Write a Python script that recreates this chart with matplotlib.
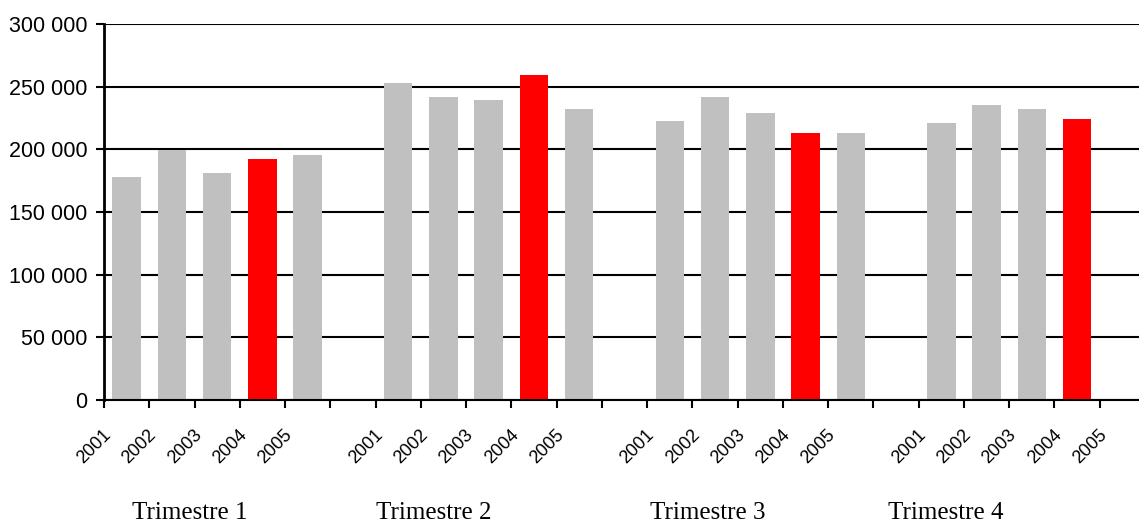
import matplotlib.pyplot as plt
import matplotlib.transforms as mtransforms
from matplotlib.ticker import FuncFormatter, MultipleLocator

years = ['2001', '2002', '2003', '2004', '2005']
quarters = ['Trimestre 1', 'Trimestre 2', 'Trimestre 3', 'Trimestre 4']

# values per quarter, one per year (None = no data yet)
q1 = [178000, 199500, 181500, 192300, 195500]
q2 = [252900, 241800, 239400, 259300, 232200]
q3 = [222600, 241800, 229000, 213000, 213000]
q4 = [221000, 235400, 232200, 224200, None]
highlight_year = '2004'

# where the quarter captions sit, in slot units
caption_x = [1.40, 6.78, 12.83, 18.09]

plt.rcParams['font.family'] = ['Liberation Sans', 'DejaVu Sans']

fig = plt.figure(figsize=(11.39, 5.25), dpi=100)
ax = fig.add_axes([104 / 1139, 125 / 525, 1041 / 1139, 376 / 525])

slot = 0
centers = []
labels = []
for series in [q1, q2, q3, q4]:
    for year, value in zip(years, series):
        centers.append(slot)
        labels.append(year)
        if value is not None:
            color = '#ff0000' if year == highlight_year else '#c0c0c0'
            ax.bar(slot, value, width=0.63, color=color, zorder=3)
        slot += 1
    slot += 1  # gap between quarters
n_slots = slot - 1

ax.set_xlim(-0.5, n_slots - 0.5)
ax.set_ylim(0, 300000)

ax.yaxis.set_major_locator(MultipleLocator(50000))
ax.yaxis.set_major_formatter(FuncFormatter(lambda v, p: f'{int(v):,}'.replace(',', ' ')))
ax.yaxis.grid(True, color='black', linewidth=1.5, zorder=1)
ax.tick_params(axis='y', direction='out', length=6, width=1.5, pad=6, labelsize=15.5)

# boundary ticks between slots, year labels under bar centres
ax.set_xticks([i - 0.5 for i in range(n_slots + 1)])
ax.set_xticklabels([])
ax.tick_params(axis='x', which='major', direction='out', length=6, width=1.5)
ax.set_xticks(centers, minor=True)
ax.set_xticklabels(labels, minor=True, rotation=45, ha='right', va='center',
                   rotation_mode='anchor', fontsize=13)
ax.tick_params(axis='x', which='minor', length=0, pad=0)
shift = mtransforms.ScaledTranslation(-18 / 100, -32 / 100, fig.dpi_scale_trans)
for lbl in ax.xaxis.get_minorticklabels():
    lbl.set_transform(lbl.get_transform() + shift)

for name, x in zip(quarters, caption_x):
    ax.text(x, -0.30, name, transform=ax.get_xaxis_transform(), ha='center',
            va='center', fontsize=18, family=['Liberation Serif', 'DejaVu Serif'])

for side in ['top', 'right']:
    ax.spines[side].set_visible(False)
ax.spines['left'].set_linewidth(2)
ax.spines['bottom'].set_linewidth(1.5)
ax.spines['left'].set_zorder(4)
ax.spines['bottom'].set_zorder(4)

fig.savefig('out.png', dpi=100)
